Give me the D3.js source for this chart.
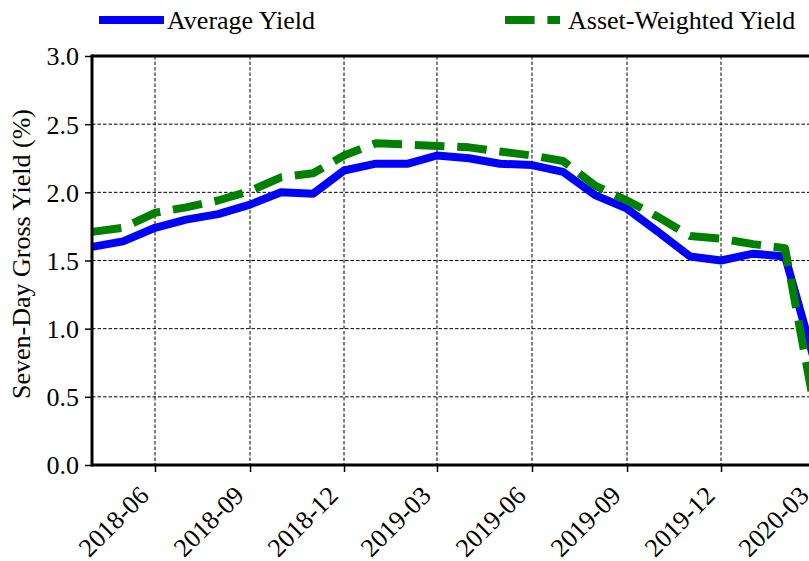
<!DOCTYPE html>
<html>
<head>
<meta charset="utf-8">
<script src="https://cdn.jsdelivr.net/npm/d3@7"></script>
<style>
  body { margin: 0; background: white; }
  text { font-family: "Liberation Serif", "DejaVu Serif", serif; fill: black; }
</style>
</head>
<body>
<div class="chart"></div>
<script>
var width = 809;
var height = 561;

var months = ['2018-04', '2018-05', '2018-06', '2018-07', '2018-08', '2018-09',
    '2018-10', '2018-11', '2018-12', '2019-01', '2019-02', '2019-03',
    '2019-04', '2019-05', '2019-06', '2019-07', '2019-08', '2019-09',
    '2019-10', '2019-11', '2019-12', '2020-01', '2020-02', '2020-03'];

var averageYield = [1.60, 1.64, 1.74, 1.80, 1.84, 1.91, 2.00, 1.99, 2.16, 2.21,
    2.21, 2.27, 2.25, 2.21, 2.20, 2.15, 1.98, 1.88, 1.71, 1.53, 1.50, 1.55,
    1.53, 0.75];

var assetWeightedYield = [1.71, 1.74, 1.85, 1.89, 1.94, 2.01, 2.11, 2.14, 2.27,
    2.36, 2.35, 2.34, 2.33, 2.30, 2.27, 2.23, 2.05, 1.94, 1.82, 1.68, 1.66,
    1.62, 1.59, 0.40];

var xTicks = ['2018-06', '2018-09', '2018-12', '2019-03', '2019-06', '2019-09',
    '2019-12', '2020-03'];
var yTicks = [0, 0.5, 1.0, 1.5, 2.0, 2.5, 3.0];

var parseMonth = d3.timeParse("%Y-%m");
var formatMonth = d3.timeFormat("%Y-%m");

var padLeft = 92, padRight = 815, padTop = 56, padBottom = 465;

var x = d3.scaleTime()
    .domain([parseMonth(months[0]), parseMonth(months[months.length - 1])])
    .range([padLeft, padRight]);
var y = d3.scaleLinear().domain([0, 3]).range([padBottom, padTop]);

var avgData = months.map(function(m, i) {
    return { date: parseMonth(m), value: averageYield[i] };
});
var assetData = months.map(function(m, i) {
    return { date: parseMonth(m), value: assetWeightedYield[i] };
});

var svg = d3.select(".chart")
    .append("svg")
    .attr("width", width)
    .attr("height", height);

svg.append("rect")
    .attr("width", width)
    .attr("height", height)
    .attr("fill", "white");

// grid
var xTickDates = xTicks.map(parseMonth);

svg.append("g")
    .selectAll("line")
    .data(xTickDates)
    .enter().append("line")
    .attr("x1", function(d) { return x(d); })
    .attr("x2", function(d) { return x(d); })
    .attr("y1", padTop)
    .attr("y2", padBottom)
    .attr("stroke", "black")
    .attr("stroke-width", 1)
    .attr("stroke-dasharray", "3.5,2");

svg.append("g")
    .selectAll("line")
    .data(yTicks.slice(1, -1))
    .enter().append("line")
    .attr("x1", padLeft)
    .attr("x2", width)
    .attr("y1", function(d) { return y(d); })
    .attr("y2", function(d) { return y(d); })
    .attr("stroke", "black")
    .attr("stroke-width", 1)
    .attr("stroke-dasharray", "3.5,2");

// lines
var line = d3.line()
    .x(function(d) { return x(d.date); })
    .y(function(d) { return y(d.value); });

svg.append("path")
    .datum(avgData)
    .attr("d", line)
    .attr("fill", "none")
    .attr("stroke", "#0000ff")
    .attr("stroke-width", 8)
    .attr("stroke-linejoin", "round");

svg.append("path")
    .datum(assetData)
    .attr("d", line)
    .attr("fill", "none")
    .attr("stroke", "#008000")
    .attr("stroke-width", 8)
    .attr("stroke-linejoin", "round")
    .attr("stroke-dasharray", "29.6,12.8");

// axes
var xAxis = d3.axisBottom(x)
    .tickValues(xTickDates)
    .tickFormat(formatMonth)
    .tickSize(7)
    .tickSizeOuter(0);
var yAxis = d3.axisLeft(y)
    .tickValues(yTicks)
    .tickFormat(d3.format(".1f"))
    .tickSize(7)
    .tickSizeOuter(0);

var gx = svg.append("g")
    .attr("transform", "translate(0," + padBottom + ")")
    .call(xAxis);
gx.select(".domain").remove();
gx.selectAll(".tick line").attr("stroke-width", 1.5);
gx.selectAll("text")
    .attr("x", null)
    .attr("y", null)
    .attr("dy", null)
    .attr("transform", "translate(-5,32) rotate(-45)")
    .style("text-anchor", "end")
    .style("font-size", "26px")
    .style("font-family", "'Liberation Serif', serif");

var gy = svg.append("g")
    .attr("transform", "translate(" + padLeft + ",0)")
    .call(yAxis);
gy.select(".domain").remove();
gy.selectAll(".tick line").attr("stroke-width", 1.5);
gy.selectAll("text")
    .attr("x", -13)
    .attr("dy", "0.34em")
    .style("font-size", "26px")
    .style("font-family", "'Liberation Serif', serif");

// spines
svg.append("line")
    .attr("x1", padLeft).attr("x2", padLeft)
    .attr("y1", padTop - 1.5).attr("y2", padBottom + 1.5)
    .attr("stroke", "black").attr("stroke-width", 3);
svg.append("line")
    .attr("x1", padLeft).attr("x2", width)
    .attr("y1", padTop).attr("y2", padTop)
    .attr("stroke", "black").attr("stroke-width", 3);
svg.append("line")
    .attr("x1", padLeft).attr("x2", width)
    .attr("y1", padBottom).attr("y2", padBottom)
    .attr("stroke", "black").attr("stroke-width", 3);

// y label
svg.append("text")
    .attr("transform", "translate(30,254) rotate(-90)")
    .attr("text-anchor", "middle")
    .style("font-size", "26px")
    .text("Seven-Day Gross Yield (%)");

// legend
svg.append("line")
    .attr("x1", 99).attr("x2", 164)
    .attr("y1", 20).attr("y2", 20)
    .attr("stroke", "#0000ff").attr("stroke-width", 8);
svg.append("text")
    .attr("x", 167).attr("y", 29)
    .style("font-size", "26px")
    .text("Average Yield");

svg.append("line")
    .attr("x1", 505).attr("x2", 560)
    .attr("y1", 20).attr("y2", 20)
    .attr("stroke", "#008000").attr("stroke-width", 8)
    .attr("stroke-dasharray", "29.6,12.8");
svg.append("text")
    .attr("x", 568).attr("y", 29)
    .style("font-size", "26px")
    .text("Asset-Weighted Yield");
</script>
</body>
</html>
